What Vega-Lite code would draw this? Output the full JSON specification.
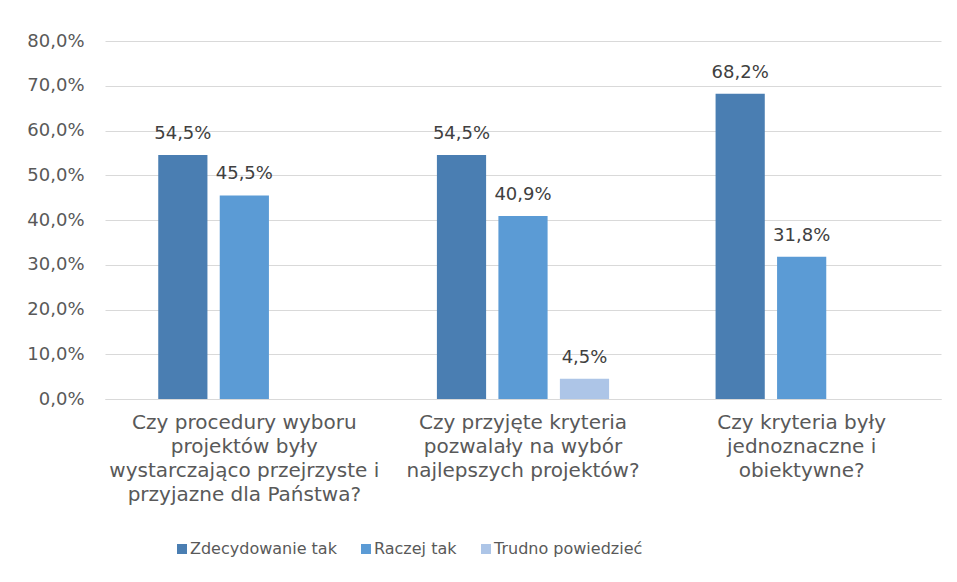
{
  "$schema": "https://vega.github.io/schema/vega-lite/v6.json",
  "width": 836,
  "height": 358,
  "autosize": "none",
  "padding": {"left": 105, "top": 41, "right": 16, "bottom": 183},
  "background": "white",
  "config": {
    "locale": {"number": {"decimal": ",", "thousands": " ", "grouping": [3], "currency": ["", " zł"]}},
    "view": {"stroke": null},
    "font": "DejaVu Sans"
  },
  "data": {
    "values": [
      {"question": "Czy procedury wyboru projektów były wystarczająco przejrzyste i przyjazne dla Państwa?", "answer": "Zdecydowanie tak", "value": 0.545},
      {"question": "Czy procedury wyboru projektów były wystarczająco przejrzyste i przyjazne dla Państwa?", "answer": "Raczej tak", "value": 0.455},
      {"question": "Czy przyjęte kryteria pozwalały na wybór najlepszych projektów?", "answer": "Zdecydowanie tak", "value": 0.545},
      {"question": "Czy przyjęte kryteria pozwalały na wybór najlepszych projektów?", "answer": "Raczej tak", "value": 0.409},
      {"question": "Czy przyjęte kryteria pozwalały na wybór najlepszych projektów?", "answer": "Trudno powiedzieć", "value": 0.045},
      {"question": "Czy kryteria były jednoznaczne i obiektywne?", "answer": "Zdecydowanie tak", "value": 0.682},
      {"question": "Czy kryteria były jednoznaczne i obiektywne?", "answer": "Raczej tak", "value": 0.318}
    ]
  },
  "encoding": {
    "x": {
      "field": "question",
      "type": "nominal",
      "sort": null,
      "scale": {"paddingInner": 0.338, "paddingOuter": 0.169},
      "axis": {
        "title": null,
        "labelAngle": 0,
        "ticks": false,
        "domain": true,
        "domainColor": "#d9d9d9",
        "labelFontSize": 20,
        "labelColor": "#595959",
        "labelPadding": 13,
        "labelBaseline": "top",
        "labelLineHeight": 24,
        "labelLimit": 400,
        "labelOverlap": false,
        "labelExpr": "datum.value == 'Czy procedury wyboru projektów były wystarczająco przejrzyste i przyjazne dla Państwa?' ? ['Czy procedury wyboru', 'projektów były', 'wystarczająco przejrzyste i', 'przyjazne dla Państwa?'] : datum.value == 'Czy przyjęte kryteria pozwalały na wybór najlepszych projektów?' ? ['Czy przyjęte kryteria', 'pozwalały na wybór', 'najlepszych projektów?'] : ['Czy kryteria były', 'jednoznaczne i', 'obiektywne?']"
      }
    },
    "xOffset": {
      "field": "answer",
      "type": "nominal",
      "sort": ["Zdecydowanie tak", "Raczej tak", "Trudno powiedzieć"],
      "scale": {"paddingInner": 0.2, "paddingOuter": 0.1}
    },
    "y": {
      "field": "value",
      "type": "quantitative",
      "scale": {"domain": [0, 0.8]},
      "axis": {
        "title": null,
        "format": ".1%",
        "values": [0, 0.1, 0.2, 0.3, 0.4, 0.5, 0.6, 0.7, 0.8],
        "labelOverlap": false,
        "domain": false,
        "ticks": false,
        "grid": true,
        "gridColor": "#d9d9d9",
        "labelFontSize": 18,
        "labelColor": "#595959",
        "labelPadding": 21
      }
    }
  },
  "layer": [
    {
      "mark": {"type": "bar"},
      "encoding": {
        "color": {
          "field": "answer",
          "type": "nominal",
          "sort": ["Zdecydowanie tak", "Raczej tak", "Trudno powiedzieć"],
          "scale": {"domain": ["Zdecydowanie tak", "Raczej tak", "Trudno powiedzieć"], "range": ["#4a7eb2", "#5b9bd5", "#adc5e7"]},
          "legend": {
            "title": null,
            "orient": "none",
            "legendX": 69,
            "legendY": 500,
            "direction": "horizontal",
            "symbolType": "square",
            "symbolSize": 100,
            "symbolStrokeWidth": 0,
            "labelFontSize": 16,
            "labelColor": "#595959",
            "labelOffset": 0,
            "labelLimit": 300,
            "columnPadding": 21
          }
        }
      }
    },
    {
      "mark": {"type": "text", "dy": -16, "baseline": "alphabetic", "fontSize": 18, "color": "#404040"},
      "encoding": {
        "text": {"field": "value", "type": "quantitative", "format": ".1%"}
      }
    }
  ]
}
